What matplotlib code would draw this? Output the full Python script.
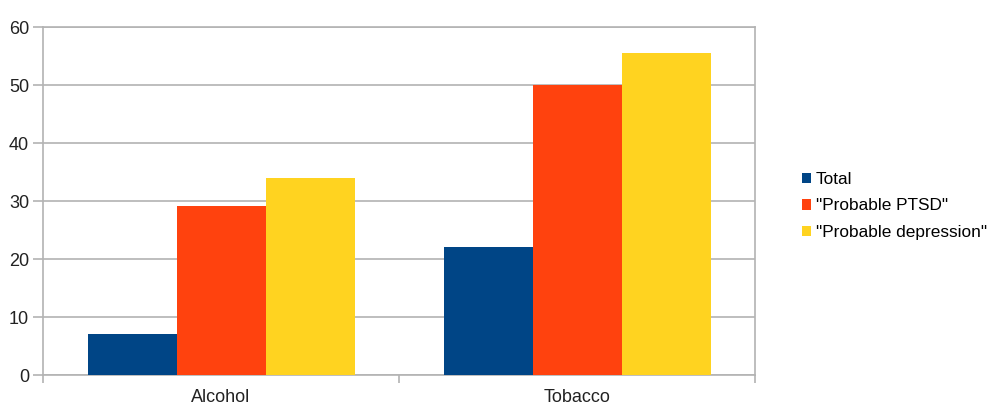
import matplotlib
matplotlib.use('Agg')
import matplotlib.pyplot as plt
import numpy as np

plt.rcParams['font.family'] = ['Liberation Sans', 'DejaVu Sans']

categories = ['Alcohol', 'Tobacco']
series_names = ['Total', '"Probable PTSD"', '"Probable depression"']
total = [7.0, 22.1]
ptsd = [29.2, 50.0]
depression = [34.0, 55.6]
colors = ['#004586', '#ff420e', '#ffd320']
y_ticks = [0, 10, 20, 30, 40, 50, 60]

grid_gray = '#b3b3b3'

fig = plt.figure(figsize=(9.94, 4.05), dpi=100)
ax = fig.add_axes([43 / 994, 30 / 405, 712 / 994, 348 / 405])

x = np.arange(len(categories))
width = 0.25
for i, (vals, name) in enumerate(zip([total, ptsd, depression], series_names)):
    ax.bar(x + (i - 1) * width, vals, width, color=colors[i], label=name, zorder=3)

ax.set_xlim(-0.5, len(categories) - 0.5)
ax.set_ylim(0, 60)
ax.set_yticks(y_ticks)
ax.yaxis.grid(True, color=grid_gray, linewidth=1.2, zorder=0)

ax.set_xticks(x)
ax.set_xticklabels(categories)
ax.set_xticks(np.arange(len(categories) + 1) - 0.5, minor=True)
ax.tick_params(axis='x', which='major', length=0, pad=10, labelsize=13, labelcolor='#222222')
ax.tick_params(axis='x', which='minor', length=6, color=grid_gray, width=1.2)
ax.tick_params(axis='y', length=7, color=grid_gray, width=1.2, pad=3, labelsize=13, labelcolor='#222222')

for side in ['left', 'right', 'top', 'bottom']:
    ax.spines[side].set_color(grid_gray)
    ax.spines[side].set_linewidth(1.2)

fig.legend(loc='center left', bbox_to_anchor=(802 / 994, 1 - 206 / 405), frameon=False,
           handlelength=0.55, handleheight=0.55, handletextpad=0.25, labelspacing=0.68,
           fontsize=12.4, borderaxespad=0, borderpad=0)

fig.savefig('out.png', dpi=100)
